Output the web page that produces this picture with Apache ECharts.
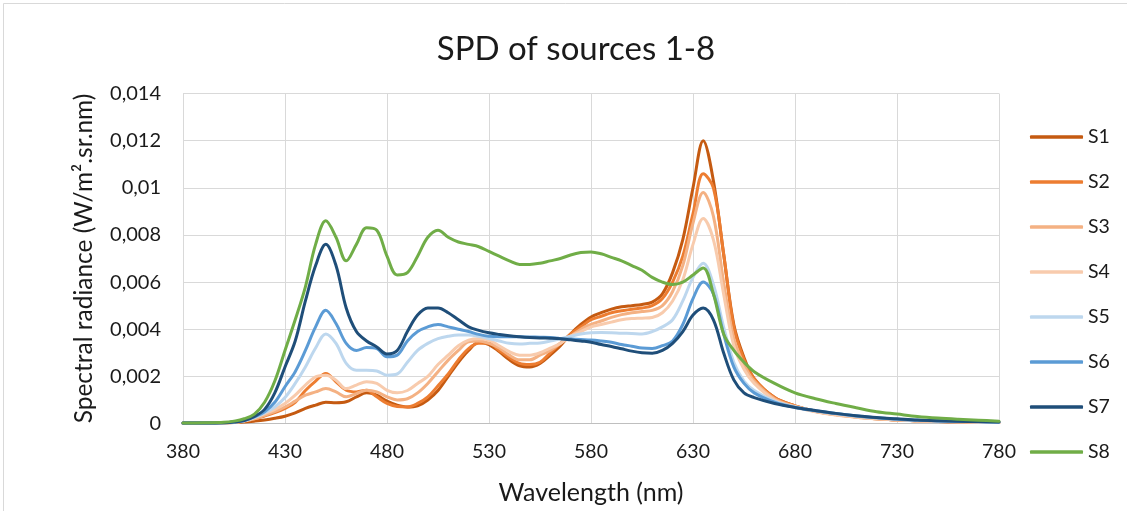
<!DOCTYPE html>
<html>
<head>
<meta charset="utf-8">
<script src="https://cdn.jsdelivr.net/npm/echarts@6/dist/echarts.min.js"></script>
<style>
html,body{margin:0;padding:0;background:#fff;}
#c{width:1127px;height:511px;}
</style>
</head>
<body>
<div id="c"></div>
<script>
const wavelengths = [380,390,400,405,410,415,420,425,430,435,440,445,450,455,460,465,470,475,480,485,490,495,500,505,510,515,520,525,530,535,540,545,550,555,560,565,570,575,580,585,590,595,600,605,610,615,620,625,630,635,640,645,650,655,660,670,680,690,700,710,720,730,740,750,760,770,780];

const S1 = [0.00002,0.00002,0.00003,0.00004,0.00006,0.0001,0.00015,0.00022,0.00031,0.00045,0.00064,0.00078,0.0009,0.00088,0.00092,0.00113,0.0013,0.0012,0.00095,0.00078,0.0007,0.00075,0.001,0.0014,0.002,0.0026,0.0031,0.00345,0.00335,0.00305,0.0027,0.00245,0.0024,0.00255,0.0029,0.0033,0.0038,0.0042,0.00452,0.0047,0.00485,0.00495,0.005,0.00505,0.00515,0.0055,0.0064,0.0078,0.01,0.012,0.0103,0.0072,0.0042,0.0028,0.0019,0.0011,0.00075,0.00052,0.00038,0.00028,0.0002,0.00015,0.00012,0.00009,0.00007,0.00005,0.00004];
const S2 = [0.00002,0.00002,0.00003,0.00005,0.0001,0.0002,0.00032,0.00046,0.00064,0.0009,0.0014,0.0018,0.00212,0.00177,0.00141,0.00134,0.00141,0.00113,0.00085,0.00072,0.0007,0.00085,0.00113,0.0016,0.0021,0.0027,0.00318,0.0034,0.0034,0.0031,0.0028,0.00255,0.0025,0.0026,0.003,0.0034,0.0038,0.0041,0.0044,0.00455,0.0047,0.00478,0.00485,0.0049,0.005,0.0053,0.006,0.0071,0.0089,0.0106,0.01,0.0072,0.0041,0.0027,0.0019,0.0011,0.00075,0.00052,0.00038,0.00028,0.0002,0.00015,0.00012,0.00009,0.00007,0.00005,0.00004];
const S3 = [0.00002,0.00002,0.00003,0.00005,0.0001,0.0002,0.00035,0.0005,0.0007,0.00095,0.0012,0.00134,0.00148,0.00134,0.00113,0.00127,0.00141,0.00134,0.00113,0.001,0.00105,0.0013,0.0017,0.0022,0.00269,0.0031,0.00347,0.0035,0.0034,0.0032,0.0029,0.0027,0.0027,0.0029,0.0031,0.0034,0.0037,0.004,0.0042,0.00435,0.0045,0.00462,0.0047,0.00475,0.0048,0.005,0.0056,0.0067,0.0085,0.0098,0.0088,0.006,0.0036,0.0025,0.0018,0.00105,0.00073,0.00051,0.00037,0.00027,0.0002,0.00015,0.00011,0.00009,0.00007,0.00005,0.00004];
const S4 = [0.00002,0.00002,0.00003,0.00006,0.00012,0.00025,0.00042,0.0006,0.00085,0.0012,0.00163,0.00198,0.00205,0.00184,0.00148,0.00163,0.00177,0.0017,0.00141,0.0013,0.0014,0.0017,0.002,0.0025,0.0029,0.0033,0.00354,0.0036,0.00354,0.0033,0.00305,0.0029,0.0029,0.003,0.0032,0.0034,0.0037,0.0039,0.0041,0.0042,0.0043,0.0044,0.00445,0.00447,0.0045,0.0047,0.0052,0.0061,0.0076,0.0087,0.0078,0.0055,0.0033,0.0023,0.0017,0.001,0.0007,0.0005,0.00036,0.00027,0.0002,0.00015,0.00011,0.00009,0.00007,0.00005,0.00004];
const S5 = [0.00002,0.00002,0.00003,0.00006,0.00012,0.00025,0.00045,0.0007,0.0011,0.0017,0.0024,0.0032,0.0038,0.0034,0.00255,0.00226,0.00226,0.00223,0.00205,0.0021,0.0026,0.0031,0.0034,0.0036,0.0037,0.00375,0.00375,0.0037,0.0036,0.0035,0.0034,0.00337,0.0034,0.00342,0.0035,0.0036,0.0037,0.0038,0.00385,0.00386,0.00385,0.00383,0.00382,0.0038,0.0039,0.0041,0.0044,0.0052,0.0062,0.0068,0.0059,0.0041,0.0026,0.0018,0.0014,0.00095,0.0007,0.00055,0.00042,0.00032,0.00024,0.00018,0.00014,0.00011,0.00009,0.00007,0.00005];
const S6 = [0.00002,0.00002,0.00003,0.00006,0.00013,0.00028,0.0005,0.0009,0.00156,0.0022,0.0031,0.0041,0.0048,0.00424,0.0034,0.0031,0.00322,0.00318,0.00283,0.0029,0.0035,0.0039,0.0041,0.0042,0.0041,0.004,0.0039,0.00378,0.0037,0.00368,0.00368,0.00368,0.00367,0.00366,0.00365,0.0036,0.00358,0.00356,0.00354,0.0035,0.00345,0.00335,0.00328,0.0032,0.00318,0.0033,0.0035,0.0042,0.0053,0.006,0.0055,0.0038,0.0024,0.0017,0.0013,0.0009,0.00068,0.00054,0.00042,0.00032,0.00024,0.00018,0.00014,0.00011,0.00009,0.00007,0.00005];
const S7 = [0.00002,0.00002,0.00003,0.00006,0.00013,0.0003,0.0006,0.0013,0.0024,0.0035,0.0052,0.0067,0.0076,0.0067,0.0049,0.0039,0.0035,0.00325,0.00295,0.0031,0.0039,0.0046,0.0049,0.0049,0.0047,0.0044,0.0041,0.00395,0.00385,0.00378,0.00372,0.00368,0.00365,0.00363,0.00362,0.0036,0.00355,0.0035,0.00345,0.00335,0.00327,0.00317,0.00307,0.003,0.00298,0.0031,0.0034,0.0039,0.0046,0.0049,0.0044,0.003,0.00185,0.0013,0.0011,0.00085,0.00068,0.00055,0.00043,0.00033,0.00025,0.0002,0.00015,0.00012,0.0001,0.00008,0.00006];
const S8 = [0.00002,0.00003,0.00005,0.0001,0.0002,0.0004,0.0009,0.0018,0.0031,0.0044,0.0058,0.0076,0.0086,0.0079,0.0069,0.0076,0.0083,0.0082,0.0071,0.0063,0.0064,0.0071,0.0079,0.0082,0.0079,0.0077,0.0076,0.0075,0.0073,0.0071,0.0069,0.00675,0.00675,0.0068,0.0069,0.007,0.00715,0.00725,0.00728,0.0072,0.00705,0.0069,0.0067,0.0065,0.0062,0.006,0.0059,0.006,0.0063,0.0066,0.0055,0.0038,0.0031,0.0026,0.0022,0.0017,0.0013,0.00105,0.00085,0.00067,0.0005,0.0004,0.0003,0.00023,0.00018,0.00014,0.0001];

const seriesNames = ['S1','S2','S3','S4','S5','S6','S7','S8'];
const seriesValues = [S1,S2,S3,S4,S5,S6,S7,S8];
const seriesColors = ['#C55A11','#ED7D31','#F4B183','#F8CBAD','#BDD7EE','#5B9BD5','#1F4E79','#70AD47'];

const FONT = 'Lato';
const chart = echarts.init(document.getElementById('c'), null, {renderer:'canvas'});
chart.setOption({
  animation:false,
  backgroundColor:'#fff',
  graphic:[{type:'rect',shape:{x:3.5,y:3.5,width:1200,height:600},style:{fill:'none',stroke:'#d9d9d9',lineWidth:1}}],
  title:{text:'SPD of sources 1-8',left:571,textAlign:'center',top:28,textStyle:{fontFamily:FONT,fontSize:33,fontWeight:'normal',color:'#1a1a1a'}},
  legend:{orient:'vertical',left:1025,top:122,icon:'roundRect',itemWidth:53,itemHeight:3.5,itemGap:25,
    textStyle:{fontFamily:FONT,fontSize:19.5,color:'#1a1a1a'},
    data:seriesNames},
  grid:{left:183,right:128,top:93.5,bottom:87.5,containLabel:false},
  xAxis:{type:'value',min:380,max:780,interval:50,
    name:'Wavelength (nm)',nameLocation:'middle',nameGap:57,
    nameTextStyle:{fontFamily:FONT,fontSize:25,color:'#1a1a1a'},
    axisLine:{show:true,lineStyle:{color:'#bfbfbf',width:1}},
    axisTick:{show:false},
    axisLabel:{fontFamily:FONT,fontSize:19.5,color:'#1a1a1a',margin:18},
    splitLine:{show:true,lineStyle:{color:'#d9d9d9',width:1}}},
  yAxis:{type:'value',min:0,max:0.014,interval:0.002,
    name:'Spectral radiance (W/m².sr.nm)',nameLocation:'middle',nameGap:86,
    nameTextStyle:{fontFamily:FONT,fontSize:24.5,color:'#1a1a1a'},
    axisLine:{show:false},axisTick:{show:false},
    axisLabel:{fontFamily:FONT,fontSize:20,color:'#1a1a1a',margin:22,
      formatter:v=>String(Number(v.toFixed(4))).replace('.',',')},
    splitLine:{show:true,lineStyle:{color:'#d9d9d9',width:1}}},
  series:seriesNames.map((n,i)=>({
    name:n,type:'line',symbol:'none',smooth:0.35,
    data:wavelengths.map((w,j)=>[w,seriesValues[i][j]]),
    lineStyle:{width:3,color:seriesColors[i],cap:'round',join:'round'},
    itemStyle:{color:seriesColors[i]}
  }))
});
</script>
</body>
</html>
